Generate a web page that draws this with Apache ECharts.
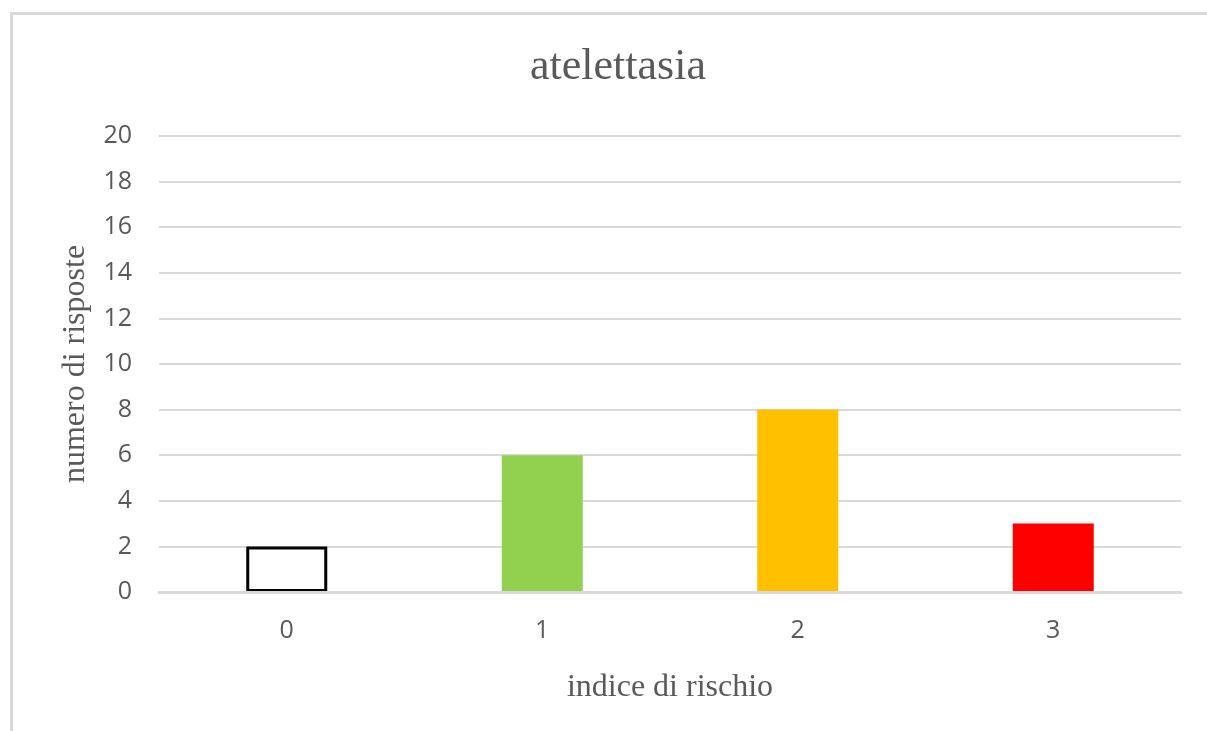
<!DOCTYPE html>
<html>
<head>
<meta charset="utf-8">
<script src="https://cdn.jsdelivr.net/npm/echarts@6/dist/echarts.min.js"></script>
<style>
  html, body { margin: 0; padding: 0; background: #fff; }
  #main { position: absolute; left: 0; top: 0; width: 1207px; height: 731px; }
  /* light frame of the original chart area (top and left only visible) */
  #frame { position: absolute; left: 10px; top: 12px; right: 0; bottom: 0;
           border-top: 3px solid #d9d9d9; border-left: 3px solid #d9d9d9; pointer-events: none; }
</style>
</head>
<body>
<div id="main"></div>
<div id="frame"></div>
<script>
var categorie = ['0', '1', '2', '3'];
var risposte = [2, 6, 8, 3];
var colori = ['#ffffff', '#92d050', '#ffc000', '#ff0000'];
var bordi = ['#000000', '#92d050', '#ffc000', '#ff0000'];

var chart = echarts.init(document.getElementById('main'));

var serif = '"Liberation Serif", "Times New Roman", serif';
var sans = '"Open Sans", "Liberation Sans", sans-serif';

var dati = risposte.map(function (v, i) {
  return {
    value: v,
    itemStyle: {
      color: colori[i],
      borderColor: bordi[i],
      borderWidth: i === 0 ? 3 : 0
    }
  };
});

var option = {
  animation: false,
  title: {
    text: 'atelettasia',
    left: 613,
    textAlign: 'center',
    top: 40,
    textStyle: { fontFamily: serif, fontSize: 44, fontWeight: 'normal', color: '#595959' }
  },
  grid: {
    left: 159,
    right: 26,
    top: 136,
    bottom: 139
  },
  xAxis: {
    type: 'category',
    data: categorie,
    z: 5,
    name: 'indice di rischio',
    nameLocation: 'middle',
    nameGap: 80,
    nameTextStyle: { fontFamily: serif, fontSize: 32, color: '#595959' },
    axisLine: { lineStyle: { color: '#d9d9d9', width: 3 } },
    axisTick: { show: false },
    axisLabel: { fontFamily: sans, fontSize: 25, color: '#595959', margin: 26 }
  },
  yAxis: {
    type: 'value',
    min: 0,
    max: 20,
    interval: 2,
    name: 'numero di risposte',
    nameLocation: 'middle',
    nameGap: 67,
    nameTextStyle: { fontFamily: serif, fontSize: 32, color: '#595959' },
    axisLine: { show: false },
    axisTick: { show: false },
    splitLine: { lineStyle: { color: '#d9d9d9', width: 2 } },
    axisLabel: { fontFamily: sans, fontSize: 25, color: '#595959', margin: 27 }
  },
  series: [
    {
      name: 'risposte',
      type: 'bar',
      z: 1,
      barWidth: 81,
      data: dati
    }
  ]
};

chart.setOption(option);
</script>
</body>
</html>
